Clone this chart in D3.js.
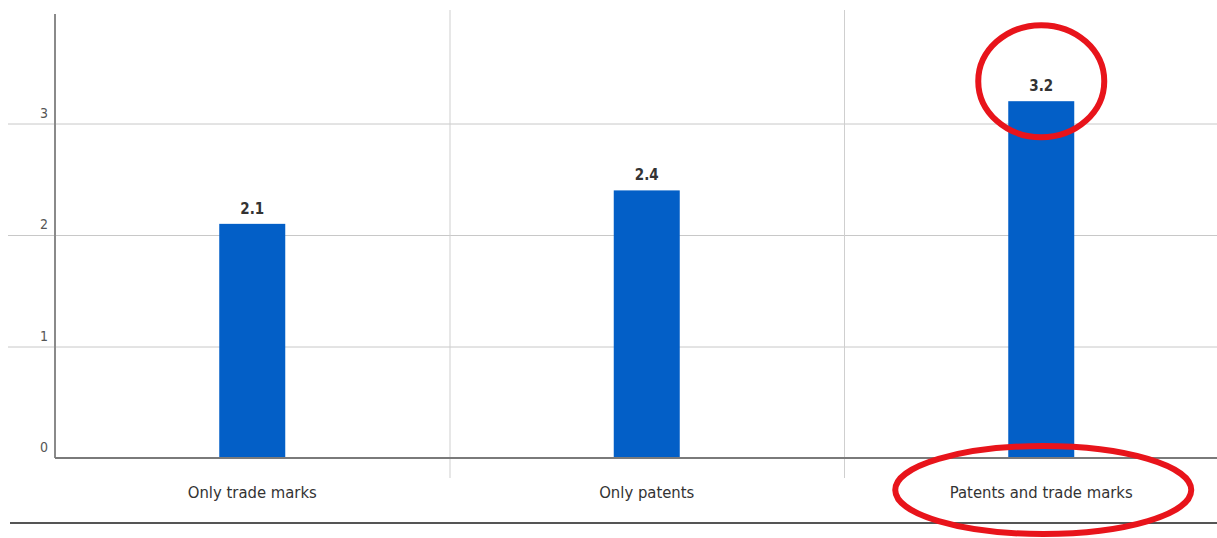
<!DOCTYPE html>
<html>
<head>
<meta charset="utf-8">
<script src="https://cdn.jsdelivr.net/npm/d3@7"></script>
<style>
  html, body { margin: 0; padding: 0; background: #fff; }
  svg { display: block; font-family: "DejaVu Sans Condensed", "Liberation Sans Narrow", "Roboto", sans-serif; }
</style>
</head>
<body>
<svg id="chart" width="1217" height="538"></svg>
<script>
const categories = ["Only trade marks", "Only patents", "Patents and trade marks"];
const values = [2.1, 2.4, 3.2];
const yTicks = [0, 1, 2, 3];
const valueLabels = ["2.1", "2.4", "3.2"];
// categories that the reference marks with a red ring
const highlighted = ["Patents and trade marks"];

const svg = d3.select("#chart");
const margin = { top: 12, left: 55 };
const plotBottom = 458;

const x = d3.scaleBand()
  .domain(categories)
  .range([margin.left, margin.left + 3 * 394.5])
  .paddingInner(0)
  .paddingOuter(0);

const y = d3.scaleLinear()
  .domain([0, 4])
  .range([plotBottom, margin.top]);

const barWidth = 66;

// horizontal gridlines
svg.append("g")
  .selectAll("line")
  .data(yTicks.filter((d) => d > 0))
  .join("line")
  .attr("x1", 8)
  .attr("x2", 1217)
  .attr("y1", (d) => y(d) + 0.5)
  .attr("y2", (d) => y(d) + 0.5)
  .attr("stroke", "#c8c8c8")
  .attr("stroke-width", 1);

// vertical separators between categories
svg.append("g")
  .selectAll("line")
  .data(categories.slice(1))
  .join("line")
  .attr("x1", (d) => x(d) + 0.5)
  .attr("x2", (d) => x(d) + 0.5)
  .attr("y1", 10)
  .attr("y2", 478)
  .attr("stroke", "#cfcfcf")
  .attr("stroke-width", 1);

// y axis labels
svg.append("g")
  .selectAll("text")
  .data(yTicks)
  .join("text")
  .attr("x", 44)
  .attr("y", (d) => y(d) - 6)
  .attr("text-anchor", "middle")
  .attr("font-size", 14)
  .attr("fill", "#555555")
  .text((d) => d);

// y axis line
svg.append("line")
  .attr("x1", margin.left)
  .attr("x2", margin.left)
  .attr("y1", 14)
  .attr("y2", plotBottom)
  .attr("stroke", "#8a8a8a")
  .attr("stroke-width", 2);

// bars
svg.append("g")
  .selectAll("rect")
  .data(values)
  .join("rect")
  .attr("x", (d, i) => x(categories[i]) + x.bandwidth() / 2 - barWidth / 2)
  .attr("y", (d) => y(d))
  .attr("width", barWidth)
  .attr("height", (d) => plotBottom - y(d))
  .attr("fill", "#035fc7");

// baseline
svg.append("line")
  .attr("x1", margin.left)
  .attr("x2", 1217)
  .attr("y1", plotBottom)
  .attr("y2", plotBottom)
  .attr("stroke", "#7a7a7a")
  .attr("stroke-width", 2);

// value labels
svg.append("g")
  .selectAll("text")
  .data(values)
  .join("text")
  .attr("x", (d, i) => x(categories[i]) + x.bandwidth() / 2)
  .attr("y", (d) => y(d) - 10)
  .attr("text-anchor", "middle")
  .attr("font-size", 15)
  .attr("font-weight", "bold")
  .attr("fill", "#333")
  .text((d, i) => valueLabels[i]);

// category labels
svg.append("g")
  .selectAll("text")
  .data(categories)
  .join("text")
  .attr("x", (d) => x(d) + x.bandwidth() / 2)
  .attr("y", 498)
  .attr("text-anchor", "middle")
  .attr("font-size", 16.5)
  .attr("fill", "#333")
  .text((d) => d);

// bottom rule
svg.append("line")
  .attr("x1", 10)
  .attr("x2", 1217)
  .attr("y1", 523)
  .attr("y2", 523)
  .attr("stroke", "#555")
  .attr("stroke-width", 2);

// red annotation rings
const ring = svg.append("g")
  .attr("fill", "none")
  .attr("stroke", "#e8141b")
  .attr("stroke-width", 6);

highlighted.forEach((cat) => {
  const i = categories.indexOf(cat);
  const cx = x(cat) + x.bandwidth() / 2;
  ring.append("ellipse")
    .attr("cx", cx)
    .attr("cy", y(values[i]) - 20)
    .attr("rx", 63)
    .attr("ry", 56);
  ring.append("ellipse")
    .attr("cx", cx + 2)
    .attr("cy", 490)
    .attr("rx", 148)
    .attr("ry", 44);
});
</script>
</body>
</html>
